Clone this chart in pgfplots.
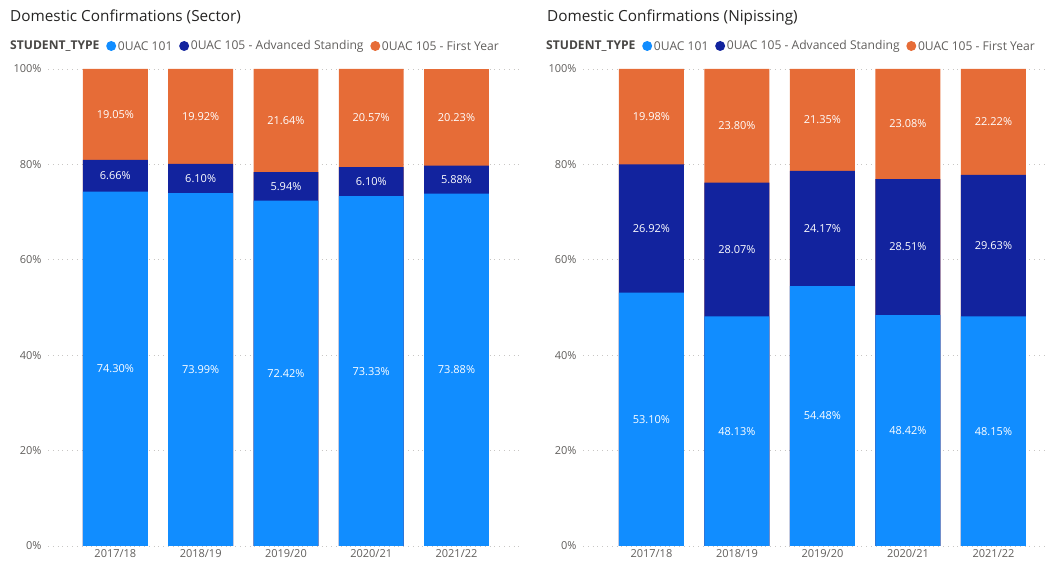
\documentclass[border=0pt]{standalone}
\usepackage{pgfplots}
\pgfplotsset{compat=1.18}
\usepackage{pgfplotstable}
\usepackage{fontspec}
\setmainfont{Open Sans}
\definecolor{cA}{HTML}{118DFF}
\definecolor{cB}{HTML}{12239E}
\definecolor{cC}{HTML}{E66C37}
\definecolor{tickc}{HTML}{605E5C}
\definecolor{titlec}{HTML}{252423}
\definecolor{legc}{HTML}{605E5C}
\definecolor{legb}{HTML}{484644}
\definecolor{gridc}{HTML}{C8C6C4}

\pgfplotstableread{
x a b c
0 74.30 6.66 19.05
1 73.99 6.10 19.92
2 72.42 5.94 21.64
3 73.33 6.10 20.57
4 73.88 5.88 20.23
}\sector
\pgfplotstableread{
x a b c
0 53.10 26.92 19.98
1 48.13 28.07 23.80
2 54.48 24.17 21.35
3 48.42 28.51 23.08
4 48.15 29.63 22.22
}\nip

\pgfplotsset{
  myax/.style={
    scale only axis, height=477pt, ymin=0, ymax=100,
    anchor=south west,
    axis line style={draw=none}, major tick style={draw=none},
    ytick={0,20,40,60,80,100},
    yticklabels={0\%,20\%,40\%,60\%,80\%,100\%},
    xtick={0,1,2,3,4},
    xticklabels={2017/18,2018/19,2019/20,2020/21,2021/22},
    tick label style={font=\fontsize{11}{13}\selectfont, text=tickc},
    yticklabel style={xshift=-3pt},
    ymajorgrids, grid style={gridc, line width=0.8pt, dash pattern=on 0.8pt off 4pt},
  },
  bar/.style={ybar, bar shift=0pt, bar width=0.76, draw=none, fill=#1},
  lab/.style={draw=none, mark=none, nodes near coords={\pgfplotspointmeta\%},
    point meta=explicit symbolic,
    every node near coord/.style={anchor=center, text=white, font=\fontsize{11}{13}\selectfont}},
}

\newcommand{\drawpanel}[1]{%
  \addplot[bar=cC] table[x=x, y expr=\thisrow{a}+\thisrow{b}+\thisrow{c}] {#1};
  \addplot[bar=cB] table[x=x, y expr=\thisrow{a}+\thisrow{b}] {#1};
  \addplot[bar=cA] table[x=x, y=a] {#1};
  \addplot[lab] table[x=x, y expr=\thisrow{a}/2, meta=a] {#1};
  \addplot[lab] table[x=x, y expr=\thisrow{a}+\thisrow{b}/2, meta=b] {#1};
  \addplot[lab] table[x=x, y expr=\thisrow{a}+\thisrow{b}+\thisrow{c}/2, meta=c] {#1};
}

\newcommand{\legendrow}[2]{%
  \node[anchor=west, inner sep=0pt, text=legb, font=\fontsize{12.1}{14}\selectfont\bfseries] (l0) at (#1,#2) {STUDENT\_TYPE};
  \fill[cA] ([xshift=11.5pt]l0.east) circle (5pt);
  \node[anchor=west, inner sep=0pt, text=legc, font=\fontsize{12.1}{14}\selectfont] (l1) at ([xshift=18pt]l0.east) {0UAC 101};
  \fill[cB] ([xshift=11.5pt]l1.east) circle (5pt);
  \node[anchor=west, inner sep=0pt, text=legc, font=\fontsize{12.1}{14}\selectfont] (l2) at ([xshift=18pt]l1.east) {0UAC 105 - Advanced Standing};
  \fill[cC] ([xshift=11.5pt]l2.east) circle (5pt);
  \node[anchor=west, inner sep=0pt, text=legc, font=\fontsize{12.1}{14}\selectfont] (l3) at ([xshift=18pt]l2.east) {0UAC 105 - First Year};
}

\begin{document}
\begin{tikzpicture}
\path[use as bounding box] (0,0) rectangle (1047pt,564pt);

\node[anchor=west, inner sep=0pt, text=titlec, font=\fontsize{15.3}{17}\selectfont] at (10pt,547pt) {Domestic Confirmations (Sector)};
\node[anchor=west, inner sep=0pt, text=titlec, font=\fontsize{15.3}{17}\selectfont] at (547pt,547pt) {Domestic Confirmations (Nipissing)};
\legendrow{10pt}{518pt}
\legendrow{546pt}{518pt}

\begin{axis}[myax, at={(48pt,18pt)}, width=475pt, xmin=-0.79, xmax=4.78]
\drawpanel{\sector}
\end{axis}

\begin{axis}[myax, at={(583pt,18pt)}, width=464pt, xmin=-0.80, xmax=4.626]
\drawpanel{\nip}
\end{axis}
\end{tikzpicture}
\end{document}
